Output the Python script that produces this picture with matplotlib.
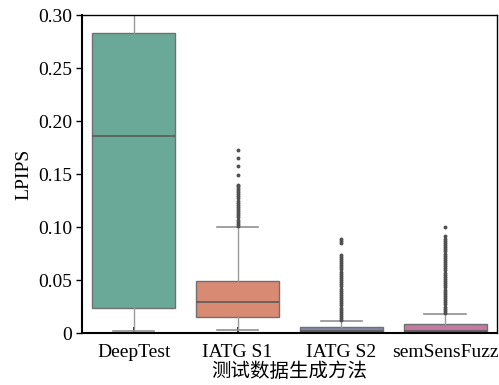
import matplotlib
matplotlib.use('Agg')
from matplotlib import pyplot as plt

methods = ['DeepTest', 'IATG S1', 'IATG S2', 'semSensFuzz']
colors = ['#6aa898', '#d98a72', '#8488a6', '#c27aa0']

# box statistics per method: lower whisker, q1, median, q3, upper whisker
whislo = [0.002, 0.003, 0.0, 0.0]
q1 = [0.024, 0.015, 0.0005, 0.0005]
med = [0.186, 0.029, 0.0015, 0.002]
q3 = [0.283, 0.049, 0.0057, 0.0085]
whishi = [0.34, 0.100, 0.011, 0.018]

# outliers above the upper whisker
fliers_s1 = [0.101, 0.103, 0.105, 0.107, 0.109, 0.111, 0.113, 0.115, 0.117,
             0.119, 0.121, 0.123, 0.125, 0.127, 0.129, 0.131, 0.133, 0.135,
             0.137, 0.139, 0.140, 0.149, 0.158, 0.165, 0.173]
fliers_s2 = [0.012, 0.014, 0.016, 0.018, 0.020, 0.022, 0.024, 0.026, 0.028,
             0.030, 0.032, 0.034, 0.036, 0.038, 0.040, 0.042, 0.044, 0.046,
             0.048, 0.050, 0.052, 0.054, 0.056, 0.058, 0.060, 0.062, 0.064,
             0.066, 0.068, 0.070, 0.072, 0.074, 0.085, 0.087, 0.089]
fliers_ssf = [0.019, 0.021, 0.023, 0.025, 0.027, 0.029, 0.031, 0.033, 0.035,
              0.037, 0.039, 0.041, 0.043, 0.045, 0.047, 0.049, 0.051, 0.053,
              0.055, 0.057, 0.059, 0.061, 0.063, 0.065, 0.067, 0.069, 0.071,
              0.073, 0.075, 0.077, 0.079, 0.081, 0.083, 0.085, 0.087, 0.089,
              0.0915, 0.100]
fliers = [[], fliers_s1, fliers_s2, fliers_ssf]

plt.rcParams['font.family'] = ['Liberation Serif', 'Noto Sans CJK SC']
plt.rcParams['font.size'] = 14

fig = plt.figure(figsize=(4.99, 3.85), dpi=100)
ax = fig.add_axes([0.164, 0.135, 0.832, 0.826])

stats = []
for i, name in enumerate(methods):
    stats.append(dict(label=name, whislo=whislo[i], q1=q1[i], med=med[i],
                      q3=q3[i], whishi=whishi[i], fliers=fliers[i]))

edge = '#707070'
bp = ax.bxp(stats, positions=range(len(methods)), widths=0.8,
            patch_artist=True, showfliers=True,
            boxprops=dict(edgecolor=edge, linewidth=1.0),
            medianprops=dict(color='#5a5a5a', linewidth=1.2),
            whiskerprops=dict(color='#9a9a9a', linewidth=1.0),
            capprops=dict(color='#909090', linewidth=1.2),
            capwidths=0.4,
            flierprops=dict(marker='o', markersize=1.8, markerfacecolor='#505050',
                            markeredgecolor='#505050', linestyle='none'))
for patch, c in zip(bp['boxes'], colors):
    patch.set_facecolor(c)

ax.set_xlim(-0.5, 3.5)
ax.set_ylim(0, 0.30)
ax.set_yticks([0, 0.05, 0.10, 0.15, 0.20, 0.25, 0.30])
ax.set_yticklabels(['0', '0.05', '0.10', '0.15', '0.20', '0.25', '0.30'])
ax.set_xticks(range(len(methods)))
ax.set_xticklabels(methods)
ax.tick_params(axis='x', direction='in', length=4, width=1.2, pad=8)
ax.tick_params(axis='y', direction='out', length=4, width=1.0, pad=3)

for side in ['left', 'bottom']:
    ax.spines[side].set_linewidth(1.5)
for side in ['top', 'right']:
    ax.spines[side].set_linewidth(1.0)

ax.set_ylabel('LPIPS', labelpad=4)
ax.set_xlabel('测试数据生成方法', labelpad=1)

fig.savefig('out.png', dpi=100)
